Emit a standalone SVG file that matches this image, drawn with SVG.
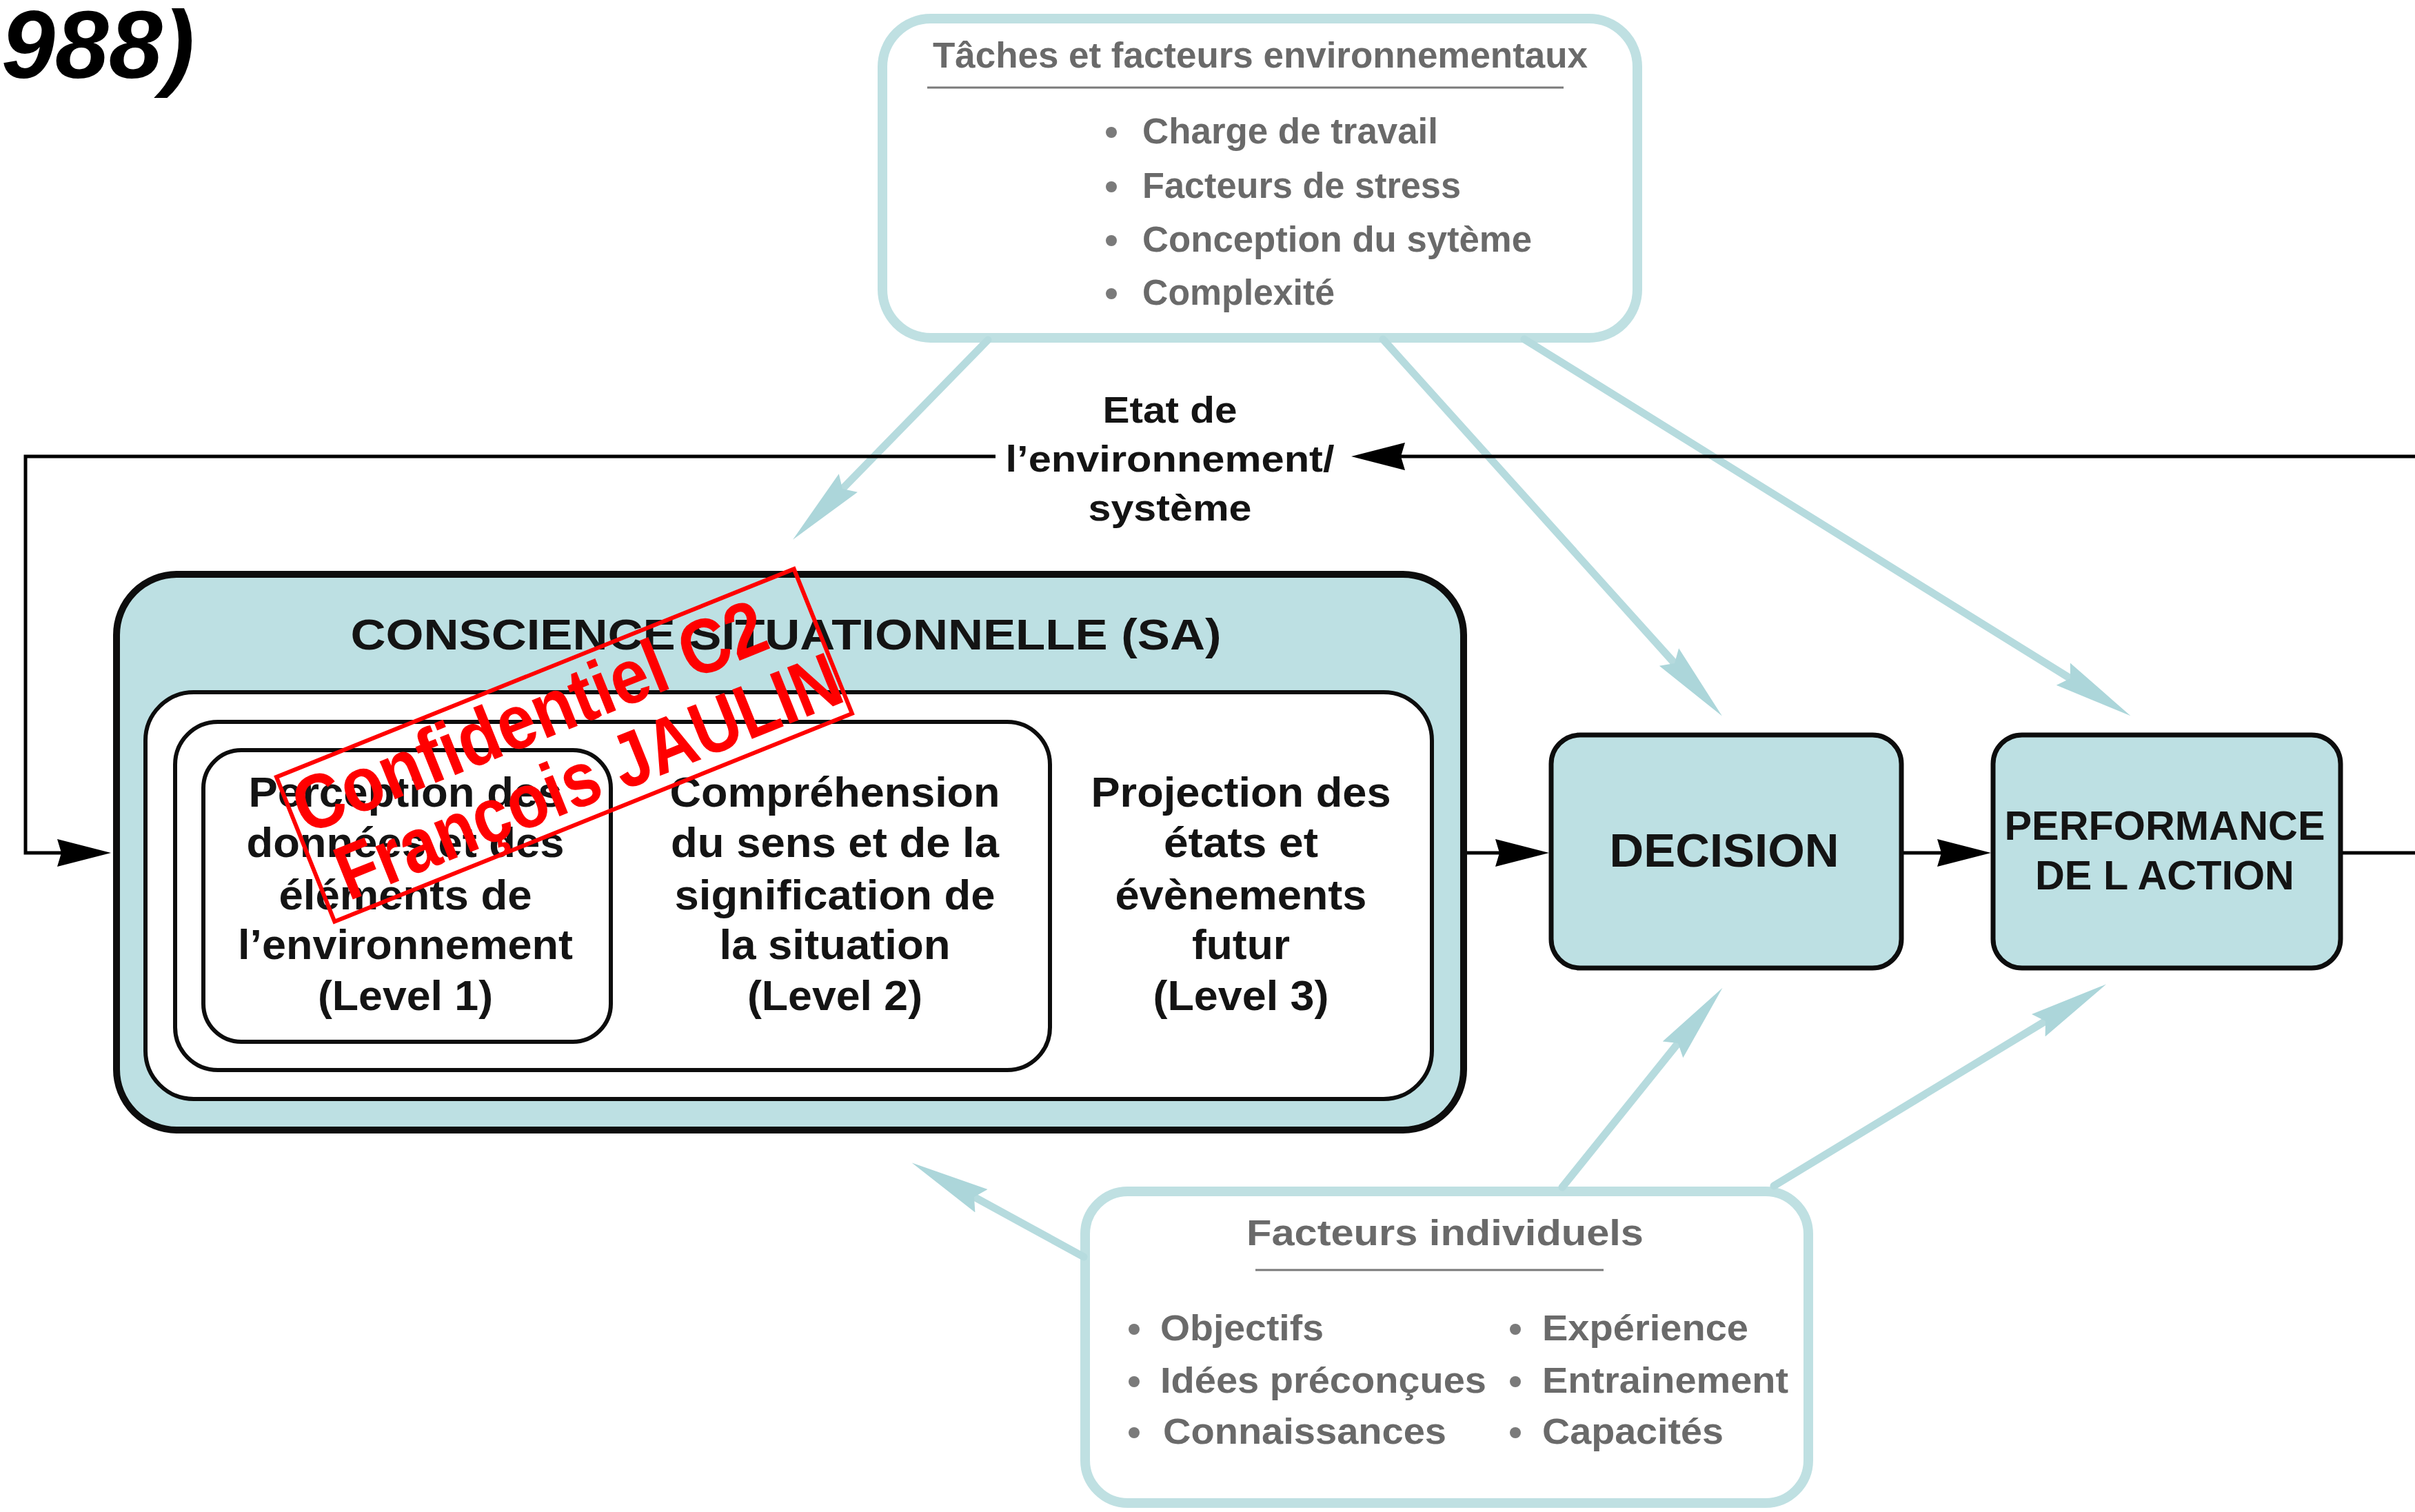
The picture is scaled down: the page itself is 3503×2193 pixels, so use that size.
<svg xmlns="http://www.w3.org/2000/svg" width="3503" height="2193" viewBox="0 0 3503 2193">
<style>
text{font-family:"Liberation Sans",Arial,sans-serif;font-weight:bold}
.dk{fill:#141414}
.gy{fill:#6a6a6a}
.ctr{text-anchor:middle}
.t60{font-size:61px}
.t50{font-size:51px}
.blk{fill:none;stroke:#000;stroke-width:5}
.tl{fill:none;stroke:#b6dbde;stroke-width:11;stroke-linecap:round}
.teal{fill:#bde0e3;stroke:#0d0d0d}
.wbox{fill:#fff;stroke:#0d0d0d}
.fbox{fill:#fff;stroke:#bfe0e2;stroke-width:14}
.bul{fill:#7a7a7a}
.uline{stroke:#7a7a7a;stroke-width:3}
</style>
<defs>
<marker id="ab" viewBox="0 0 78 40" refX="6" refY="20" markerWidth="78" markerHeight="40" markerUnits="userSpaceOnUse" orient="auto">
<path d="M0,0 L78,20 L0,40 L6,20 z" fill="#000"/>
</marker>
<marker id="at" viewBox="0 0 115 40" refX="12" refY="20" markerWidth="115" markerHeight="40" markerUnits="userSpaceOnUse" orient="auto">
<path d="M0,1 L115,20 L0,39 L12,20 z" fill="#acd6da"/>
</marker>
</defs>
<rect width="3503" height="2193" fill="#fff"/>

<text x="2" y="113" font-size="140" font-style="italic" fill="#000">988)</text>

<g id="taches">
<rect class="fbox" x="1280" y="27" width="1095" height="463" rx="70"/>
<text class="gy t50" x="1353" y="98" textLength="950" lengthAdjust="spacingAndGlyphs">Tâches et facteurs environnementaux</text>
<line class="uline" x1="1345" y1="127" x2="2268" y2="127"/>
<circle class="bul" cx="1612" cy="192" r="8"/>
<circle class="bul" cx="1612" cy="271" r="8"/>
<circle class="bul" cx="1612" cy="349" r="8"/>
<circle class="bul" cx="1612" cy="426" r="8"/>
<text class="gy t50" x="1657" y="208" textLength="429" lengthAdjust="spacingAndGlyphs">Charge de travail</text>
<text class="gy t50" x="1657" y="287" textLength="462" lengthAdjust="spacingAndGlyphs">Facteurs de stress</text>
<text class="gy t50" x="1657" y="365" textLength="565" lengthAdjust="spacingAndGlyphs">Conception du sytème</text>
<text class="gy t50" x="1657" y="442" textLength="279" lengthAdjust="spacingAndGlyphs">Complexité</text>
</g>

<g id="individuels">
<rect class="fbox" x="1574" y="1728" width="1049" height="452" rx="62" stroke-width="12"/>
<text class="gy t50" x="1808" y="1806" textLength="576" lengthAdjust="spacingAndGlyphs">Facteurs individuels</text>
<line class="uline" x1="1821" y1="1842" x2="2326" y2="1842"/>
<circle class="bul" cx="1645" cy="1928" r="8"/>
<circle class="bul" cx="1645" cy="2004" r="8"/>
<circle class="bul" cx="1645" cy="2078" r="8"/>
<circle class="bul" cx="2198" cy="1928" r="8"/>
<circle class="bul" cx="2198" cy="2004" r="8"/>
<circle class="bul" cx="2198" cy="2078" r="8"/>
<text class="gy t50" x="1683" y="1944" textLength="237" lengthAdjust="spacingAndGlyphs">Objectifs</text>
<text class="gy t50" x="1683" y="2020" textLength="473" lengthAdjust="spacingAndGlyphs">Idées préconçues</text>
<text class="gy t50" x="1687" y="2094" textLength="411" lengthAdjust="spacingAndGlyphs">Connaissances</text>
<text class="gy t50" x="2237" y="1944" textLength="299" lengthAdjust="spacingAndGlyphs">Expérience</text>
<text class="gy t50" x="2237" y="2020" textLength="357" lengthAdjust="spacingAndGlyphs">Entrainement</text>
<text class="gy t50" x="2237" y="2094" textLength="263" lengthAdjust="spacingAndGlyphs">Capacités</text>
</g>

<g id="sa">
<rect class="teal" x="169" y="833" width="1954" height="806" rx="88" stroke-width="10"/>
<text class="dk ctr" x="1140" y="942" font-size="63" textLength="1263" lengthAdjust="spacingAndGlyphs">CONSCIENCE SITUATIONNELLE (SA)</text>
<rect class="wbox" x="211" y="1004" width="1866" height="590" rx="70" stroke-width="6"/>
</g>

<g id="level2">
<rect class="wbox" x="254" y="1047" width="1269" height="505" rx="62" stroke-width="6"/>
<text class="dk ctr t60" x="1211" y="1170" textLength="479" lengthAdjust="spacingAndGlyphs">Compréhension</text>
<text class="dk ctr t60" x="1211" y="1243" textLength="476" lengthAdjust="spacingAndGlyphs">du sens et de la</text>
<text class="dk ctr t60" x="1211" y="1319" textLength="465" lengthAdjust="spacingAndGlyphs">signification de</text>
<text class="dk ctr t60" x="1211" y="1391" textLength="335" lengthAdjust="spacingAndGlyphs">la situation</text>
<text class="dk ctr t60" x="1211" y="1465" textLength="254" lengthAdjust="spacingAndGlyphs">(Level 2)</text>
</g>

<g id="level1">
<rect class="wbox" x="295" y="1088" width="591" height="423" rx="55" stroke-width="6"/>
<text class="dk ctr t60" x="588" y="1170" textLength="455" lengthAdjust="spacingAndGlyphs">Perception des</text>
<text class="dk ctr t60" x="588" y="1243" textLength="461" lengthAdjust="spacingAndGlyphs">données et des</text>
<text class="dk ctr t60" x="588" y="1319" textLength="367" lengthAdjust="spacingAndGlyphs">éléments de</text>
<text class="dk ctr t60" x="588" y="1391" textLength="486" lengthAdjust="spacingAndGlyphs">l’environnement</text>
<text class="dk ctr t60" x="588" y="1465" textLength="254" lengthAdjust="spacingAndGlyphs">(Level 1)</text>
</g>

<g id="level3">
<text class="dk ctr t60" x="1800" y="1170" textLength="435" lengthAdjust="spacingAndGlyphs">Projection des</text>
<text class="dk ctr t60" x="1800" y="1243" textLength="224" lengthAdjust="spacingAndGlyphs">états et</text>
<text class="dk ctr t60" x="1800" y="1319" textLength="365" lengthAdjust="spacingAndGlyphs">évènements</text>
<text class="dk ctr t60" x="1800" y="1391" textLength="142" lengthAdjust="spacingAndGlyphs">futur</text>
<text class="dk ctr t60" x="1800" y="1465" textLength="255" lengthAdjust="spacingAndGlyphs">(Level 3)</text>
</g>

<g id="decision">
<rect class="teal" x="2250" y="1066" width="508" height="338" rx="42" stroke-width="7"/>
<text class="dk ctr" x="2501" y="1257" font-size="68" textLength="333" lengthAdjust="spacingAndGlyphs">DECISION</text>
</g>

<g id="performance">
<rect class="teal" x="2891" y="1066" width="504" height="338" rx="42" stroke-width="7"/>
<text class="dk ctr" x="3140" y="1218" font-size="59" textLength="465" lengthAdjust="spacingAndGlyphs">PERFORMANCE</text>
<text class="dk ctr" x="3140" y="1290" font-size="59" textLength="376" lengthAdjust="spacingAndGlyphs">DE L ACTION</text>
</g>

<g id="connectors">
<path class="tl" d="M1433,493 L1222,709" marker-end="url(#at)"/>
<path class="tl" d="M2006,492 L2429,962" marker-end="url(#at)"/>
<path class="tl" d="M2211,492 L3003,984" marker-end="url(#at)"/>
<path class="tl" d="M2266,1722 L2434,1513" marker-end="url(#at)"/>
<path class="tl" d="M2573,1720 L2967,1481" marker-end="url(#at)"/>
<path class="tl" d="M1572,1823 L1413,1736" marker-end="url(#at)"/>
<path class="blk" d="M3510,662 H2032" marker-end="url(#ab)"/>
<path class="blk" d="M1444,662 H37 V1237 H89" marker-end="url(#ab)"/>
<path class="blk" d="M2128,1237 H2175" marker-end="url(#ab)"/>
<path class="blk" d="M2761,1237 H2816" marker-end="url(#ab)"/>
<path class="blk" d="M3398,1237 H3510"/>
<text class="dk ctr" x="1697" y="613" font-size="53" textLength="195" lengthAdjust="spacingAndGlyphs">Etat de</text>
<text class="dk ctr" x="1697" y="684" font-size="53" textLength="477" lengthAdjust="spacingAndGlyphs">l’environnement/</text>
<text class="dk ctr" x="1697" y="755" font-size="53" textLength="237" lengthAdjust="spacingAndGlyphs">système</text>
</g>

<g id="watermark" transform="translate(401 1127) rotate(-21.9)">
<rect x="0" y="0" width="809" height="226" fill="none" stroke="#ff0000" stroke-width="6"/>
<text x="8" y="94" font-size="112" fill="#ff0000" textLength="730" lengthAdjust="spacingAndGlyphs">Confidentiel C2</text>
<text x="30" y="206" font-size="112" fill="#ff0000" textLength="780" lengthAdjust="spacingAndGlyphs">François JAULIN</text>
</g>
</svg>
